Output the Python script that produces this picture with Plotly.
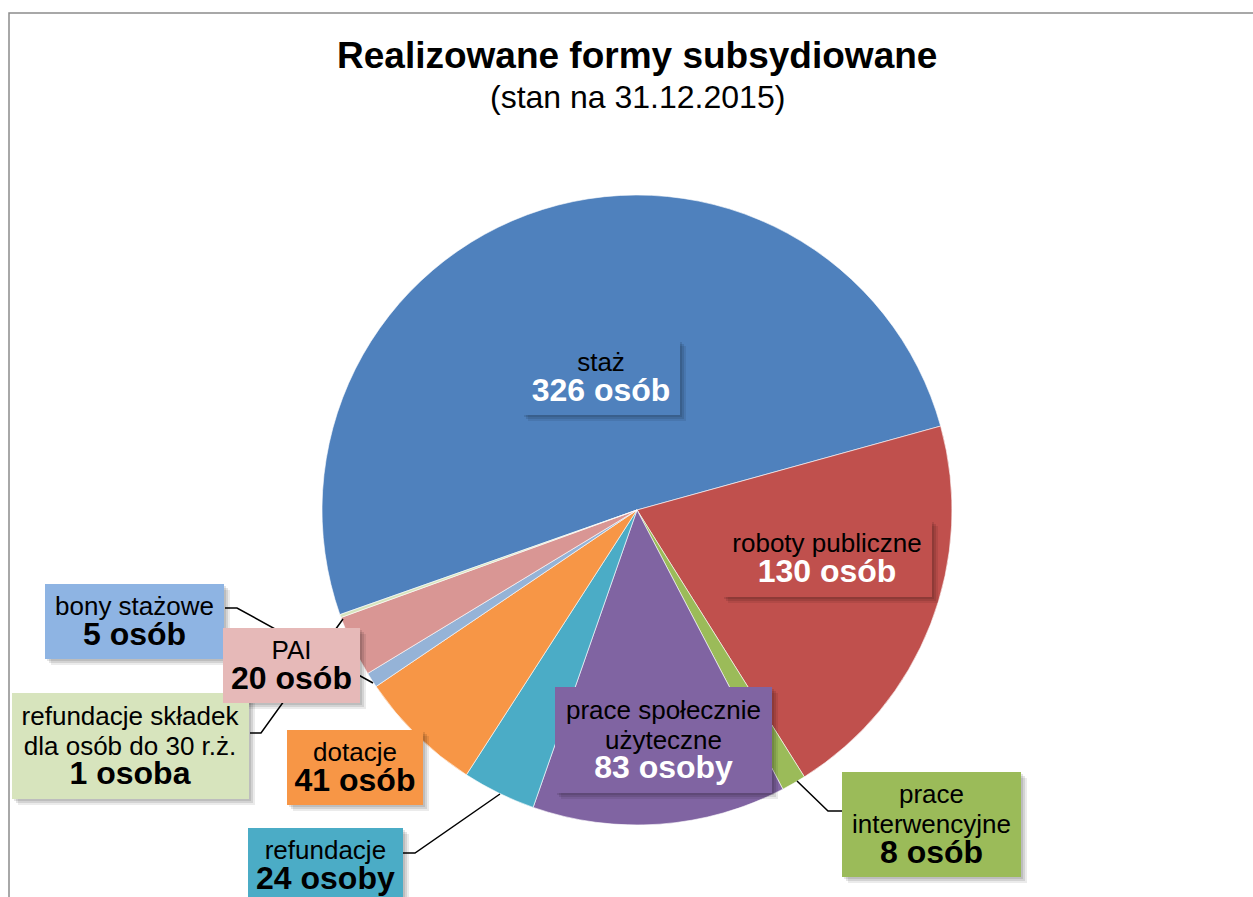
import plotly.graph_objects as go

# ---- data ----
categories = ["staż", "roboty publiczne", "prace interwencyjne", "prace społecznie użyteczne",
              "refundacje", "dotacje", "bony stażowe", "PAI",
              "refundacje składek dla osób do 30 r.ż."]
label_lines = ["staż", "roboty publiczne", "prace<br>interwencyjne", "prace społecznie<br>użyteczne",
               "refundacje", "dotacje", "bony stażowe", "PAI",
               "refundacje składek<br>dla osób do 30 r.ż."]
values = [326, 130, 8, 83, 24, 41, 5, 20, 1]
units = ["osób", "osób", "osób", "osoby", "osoby", "osób", "osób", "osób", "osoba"]
slice_colors = ["#4F81BD", "#C0504D", "#9BBB59", "#8064A2", "#4BACC6", "#F79646",
                "#95B3D7", "#D99694", "#D7E4BD"]
box_colors = ["#4F81BD", "#C0504D", "#9BBB59", "#8064A2", "#4BACC6", "#F79646",
              "#8EB4E3", "#E6B9B8", "#D7E4BD"]
value_font_colors = ["white", "white", "black", "white", "black", "black", "black", "black", "black"]

title = "Realizowane formy subsydiowane"
subtitle = "(stan na 31.12.2015)"

W, H = 1253, 897
def px(x):
    return x / W
def py(y):
    return 1 - y / H

# label boxes: (center x, center y, width, height) in pixels
boxes = [
    (601, 377.5, 158, 75),
    (827, 558.5, 210, 77),
    (931.5, 824.5, 179, 105),
    (663.5, 740, 217, 106),
    (325.5, 865.5, 155, 75),
    (355, 767.5, 136, 75),
    (134.5, 621.5, 179, 75),
    (291.5, 665.5, 137, 75),
    (130.5, 746, 237, 106),
]

# leader lines (pixel polylines)
leaders = [
    [(225, 608), (237, 608), (373, 683)],          # bony stażowe
    [(250, 733), (261, 733), (343, 619)],          # refundacje składek
    [(403, 853), (415, 853), (500, 794)],          # refundacje
    [(842, 811), (828, 811), (797, 781)],          # prace interwencyjne
]

fig = go.Figure()
fig.add_trace(go.Pie(
    labels=categories, values=values, sort=False, direction="clockwise",
    rotation=250.6, textinfo="none", hoverinfo="label+value",
    marker=dict(colors=slice_colors, line=dict(color="rgba(255,255,255,0.6)", width=1)),
    domain=dict(x=[px(322), px(952)], y=[py(825), py(195)]),
    showlegend=False,
))

shapes = []
# frame
shapes.append(dict(type="rect", xref="paper", yref="paper",
                   x0=px(9), x1=1.02, y0=-0.02, y1=py(13),
                   line=dict(color="#8C8C8C", width=1.5), fillcolor="rgba(0,0,0,0)", layer="below"))
# leader lines
for pts in leaders:
    path = "M " + " L ".join(f"{px(x)},{py(y)}" for x, y in pts)
    shapes.append(dict(type="path", xref="paper", yref="paper", path=path,
                       line=dict(color="black", width=1.5), layer="above"))
# soft shadows
for (cx, cy, w, h) in boxes:
    for off, a in ((6, 0.08), (4, 0.10), (2, 0.10)):
        shapes.append(dict(type="rect", xref="paper", yref="paper",
                           x0=px(cx - w / 2 + off), x1=px(cx + w / 2 + off),
                           y0=py(cy + h / 2 + off), y1=py(cy - h / 2 + off),
                           line=dict(width=0), fillcolor=f"rgba(0,0,0,{a})", layer="above"))

annotations = []
draw_order = [0, 1, 2, 3, 4, 5, 6, 8, 7]
for i in draw_order:
    cx, cy, w, h = boxes[i]
    txt = (f"<span style='font-size:26px'>{label_lines[i]}</span><br>"
           f"<b><span style='font-size:32px;color:{value_font_colors[i]}'>{values[i]} {units[i]}</span></b>")
    annotations.append(dict(
        x=px(cx), y=py(cy), xref="paper", yref="paper", xanchor="center", yanchor="middle",
        text=txt, showarrow=False, width=w, height=h, valign="middle", align="center",
        bgcolor=box_colors[i], borderpad=0, borderwidth=0,
        font=dict(family="Liberation Sans, Arial, sans-serif", size=23, color="black"),
    ))

annotations.append(dict(x=px(637), y=py(56), xref="paper", yref="paper", showarrow=False,
                        xanchor="center", yanchor="middle", text=f"<b>{title}</b>",
                        font=dict(family="Liberation Sans, Arial, sans-serif", size=37, color="black")))
annotations.append(dict(x=px(637), y=py(97), xref="paper", yref="paper", showarrow=False,
                        xanchor="center", yanchor="middle", text=subtitle,
                        font=dict(family="Liberation Sans, Arial, sans-serif", size=32, color="black")))

fig.update_layout(
    width=W, height=H, margin=dict(l=0, r=0, t=0, b=0),
    paper_bgcolor="white", plot_bgcolor="white",
    shapes=shapes, annotations=annotations,
)

fig.write_html("out.html", config={"displayModeBar": False},
               post_script="document.body.style.margin='0';document.body.style.padding='0';")
